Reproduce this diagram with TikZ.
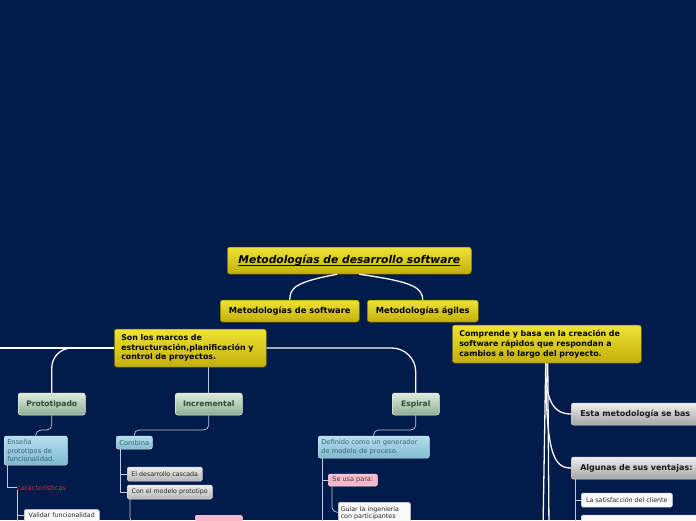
\documentclass[tikz,border=0pt]{standalone}
\usepackage{fontspec}
\setmainfont{DejaVu Sans}
\usetikzlibrary{calc}
\newcommand{\myul}[1]{\setbox0\hbox{#1}\rlap{\rule[-1.6pt]{\wd0}{0.7pt}}\box0}
\definecolor{bg}{HTML}{011B4B}
\definecolor{yelT}{HTML}{EEE333}
\definecolor{yelB}{HTML}{C2AE0C}
\definecolor{yelD}{HTML}{6E6408}
\definecolor{grnT}{HTML}{DCEBDC}
\definecolor{grnB}{HTML}{8FAE92}
\definecolor{grnX}{HTML}{2C4A38}
\definecolor{gryT}{HTML}{EEEEEE}
\definecolor{gryB}{HTML}{A4A4A4}
\definecolor{bluT}{HTML}{B4E0EE}
\definecolor{bluB}{HTML}{7FB9CD}
\definecolor{bluX}{HTML}{3F6178}
\definecolor{pnk}{HTML}{F5B9CB}
\definecolor{lnk}{HTML}{C3CCDC}
\definecolor{redx}{HTML}{D8283A}
\tikzset{
  base/.style={inner sep=0pt, rounded corners=2.5pt, line width=0.5pt},
  yel/.style={base, top color=yelT, bottom color=yelB, draw=yelD, text=black},
  grn/.style={base, top color=grnT, bottom color=grnB, draw=white!80!grnB, text=grnX, font=\bfseries\fontsize{7.6}{9}\selectfont},
  gry/.style={base, top color=gryT, bottom color=gryB, draw=white!70!gryB, text=black!90, font=\bfseries\fontsize{8}{10}\selectfont},
  blu/.style={base, rounded corners=2pt, top color=bluT, bottom color=bluB, draw=white!60!bluB, text=bluX, font=\fontsize{6.7}{8.8}\selectfont},
  smg/.style={base, rounded corners=1.5pt, top color=gryT, bottom color=gryB!80, draw=white!60!gryB, text=black!85, font=\fontsize{6.3}{8}\selectfont},
  wht/.style={base, rounded corners=1.5pt, fill=white!96!gray, draw=white!70!gray, text=black!85, font=\fontsize{6.3}{8}\selectfont},
  pnkbox/.style={base, rounded corners=1.5pt, fill=pnk, draw=white!60!pnk, text=black!75, font=\fontsize{6.5}{8}\selectfont},
  thin/.style={draw=lnk, line width=0.7pt},
  thick/.style={draw=white!90!lnk, line width=1.3pt},
}
\begin{document}
\begin{tikzpicture}[x=1pt,y=-1pt]
\fill[bg] (0,0) rectangle (696,520);
\useasboundingbox (0,0) rectangle (696,520);
\clip (0,0) rectangle (696,520);

% ---- nodes ----
\node[yel, anchor=west, minimum width=244pt, minimum height=27pt, font=\bfseries\itshape\fontsize{10.7}{12}\selectfont] (title) at (227,260.5) {\myul{Metodologías de desarrollo software}};
\node[yel, anchor=west, minimum width=139pt, minimum height=22pt, font=\bfseries\fontsize{8.3}{9}\selectfont] (ms) at (220,311) {Metodologías de software};
\node[yel, anchor=west, minimum width=111pt, minimum height=22pt, font=\bfseries\fontsize{8.3}{9}\selectfont] (ma) at (367,311) {Metodologías ágiles};
\node[yel, anchor=west, minimum height=38pt, text width=138pt, inner xsep=7pt, align=left, font=\bfseries\fontsize{7.9}{9.5}\selectfont] (son) at (114,348) {Son los marcos de\\estructuración,planificación y\\control de proyectos.};
\node[yel, anchor=west, minimum height=38pt, text width=175pt, inner xsep=7pt, align=left, font=\bfseries\fontsize{7.9}{9.7}\selectfont] (comp) at (452,344) {Comprende y basa en la creación de\\software rápidos que respondan a\\cambios a lo largo del proyecto.};

\node[grn, anchor=west, minimum width=67pt, minimum height=22pt] (proto) at (18,404) {Prototipado};
\node[grn, anchor=west, minimum width=67pt, minimum height=22pt] (incr) at (175,404) {Incremental};
\node[grn, anchor=west, minimum width=47pt, minimum height=22pt] (esp) at (392,404) {Espiral};

\node[gry, anchor=west, minimum height=22pt, text width=180pt, inner xsep=9pt, align=left] (esta) at (571,414) {Esta metodología se bas};
\node[gry, anchor=west, minimum height=22pt, text width=180pt, inner xsep=9pt, align=left] (alg) at (571,468) {Algunas de sus ventajas:};
\node[wht, anchor=west, minimum width=91pt, minimum height=14pt] (sat) at (581,500) {La satisfacción del cliente};
\node[wht, anchor=west, minimum width=130pt, minimum height=14pt] (nxt) at (581,522) {};

\node[blu, anchor=west, minimum height=29pt, text width=57pt, inner xsep=3pt, align=left] (ens) at (4,450.5) {Enseña\\prototipos de\\funcionalidad.};
\node[anchor=west, inner sep=0pt, text=redx, font=\fontsize{6.7}{8}\selectfont] (car) at (17,487.5) {características};
\node[wht, anchor=west, minimum width=75pt, minimum height=12pt] (val) at (24,515.5) {Validar funcionalidad};

\node[blu, anchor=west, minimum width=36pt, minimum height=13pt] (comb) at (116,442.5) {Combina};
\node[smg, anchor=west, minimum width=75pt, minimum height=14pt] (casc) at (127,474) {El desarrollo cascada};
\node[smg, anchor=west, minimum width=85pt, minimum height=14pt] (cmp) at (127,492) {Con el modelo prototipo};
\node[pnkbox, anchor=north west, minimum width=47pt, minimum height=16pt] (req) at (195,515) {};

\node[blu, anchor=west, minimum height=22pt, text width=105pt, inner xsep=3pt, align=left] (def) at (318,447) {Definido como un generador\\de modelo de proceso.};
\node[pnkbox, anchor=west, minimum width=49pt, minimum height=12pt] (usa) at (328,480) {Se usa para:};
\node[wht, anchor=north west, minimum height=22pt, text width=67pt, inner xsep=2.5pt, inner ysep=1.8pt, align=left, font=\fontsize{6.3}{7.7}\selectfont] (guia) at (338,502) {Guiar la ingeniería\\con participantes};

% ---- helper coordinates ----
\coordinate (offL) at (-5,348);
\coordinate (offB1) at (543,530);
\coordinate (offB2) at (549,530);
\coordinate (offB3) at (575,530);
\coordinate (offB4) at (17,530);
\coordinate (offB5) at (322,530);
\coordinate (offB6) at (332,530);
\coordinate (kP) at (36,430);
\coordinate (kI) at (134,430);
\coordinate (kE) at (373.5,430);

% ---- connectors ----
\draw[thick] ([xshift=-12pt]title.south) .. controls (295,282) and (290,288) .. (ms.north);
\draw[thick] ([xshift=10pt]title.south) .. controls (415,282) and (422,288) .. (ma.north);
\draw[white, line width=2pt] (offL) -- (son.west);
\draw[thick, rounded corners=20pt] (son.west) -| (proto.north);
\draw[thin] (incr.north) -- (incr.north |- son.south);
\draw[thick, rounded corners=24pt] (son.east) -| (esp.north);

\draw[thick] ([xshift=-1pt]comp.south) .. controls (545,400) and (553,414) .. (esta.west);
\draw[thick] ([xshift=-1pt]comp.south) .. controls (546,452) and (553,468) .. (alg.west);
\draw[thick] ([xshift=-1pt]comp.south) -- (offB1);
\draw[thick] ([xshift=1pt]comp.south) -- (offB2);
\draw[thin] (alg.south west -| offB3) -- (offB3);
\draw[thin] (alg.south west -| offB3) |- (sat.west);
\draw[thin] (alg.south west -| offB3) |- (nxt.west);

\draw[thin, rounded corners=5pt] (proto.south) |- (kP) -- (ens.north);
\draw[thin] (ens.south west -| 7,0) |- (car.west);
\draw[thin] (car.south west -| offB4) -- (offB4);
\draw[thin] (car.south west -| offB4) |- (val.west);

\draw[thin, rounded corners=5pt] (incr.south) |- (kI) -- (comb.north);
\draw[thin] (comb.south west -| 120,0) |- (casc.west);
\draw[thin] (comb.south west -| 120,0) |- (cmp.west);
\draw[thin, rounded corners=6pt] (cmp.south west -| 130,0) |- (req.west);

\draw[thin, rounded corners=5pt] (esp.south) |- (kE) -- (def.north);
\draw[thin] (def.south west -| offB5) -- (offB5);
\draw[thin] (def.south west -| offB5) |- (usa.west);
\draw[thin, rounded corners=5pt] (usa.south west -| offB6) |- ([yshift=1pt]guia.west);
\end{tikzpicture}
\end{document}
